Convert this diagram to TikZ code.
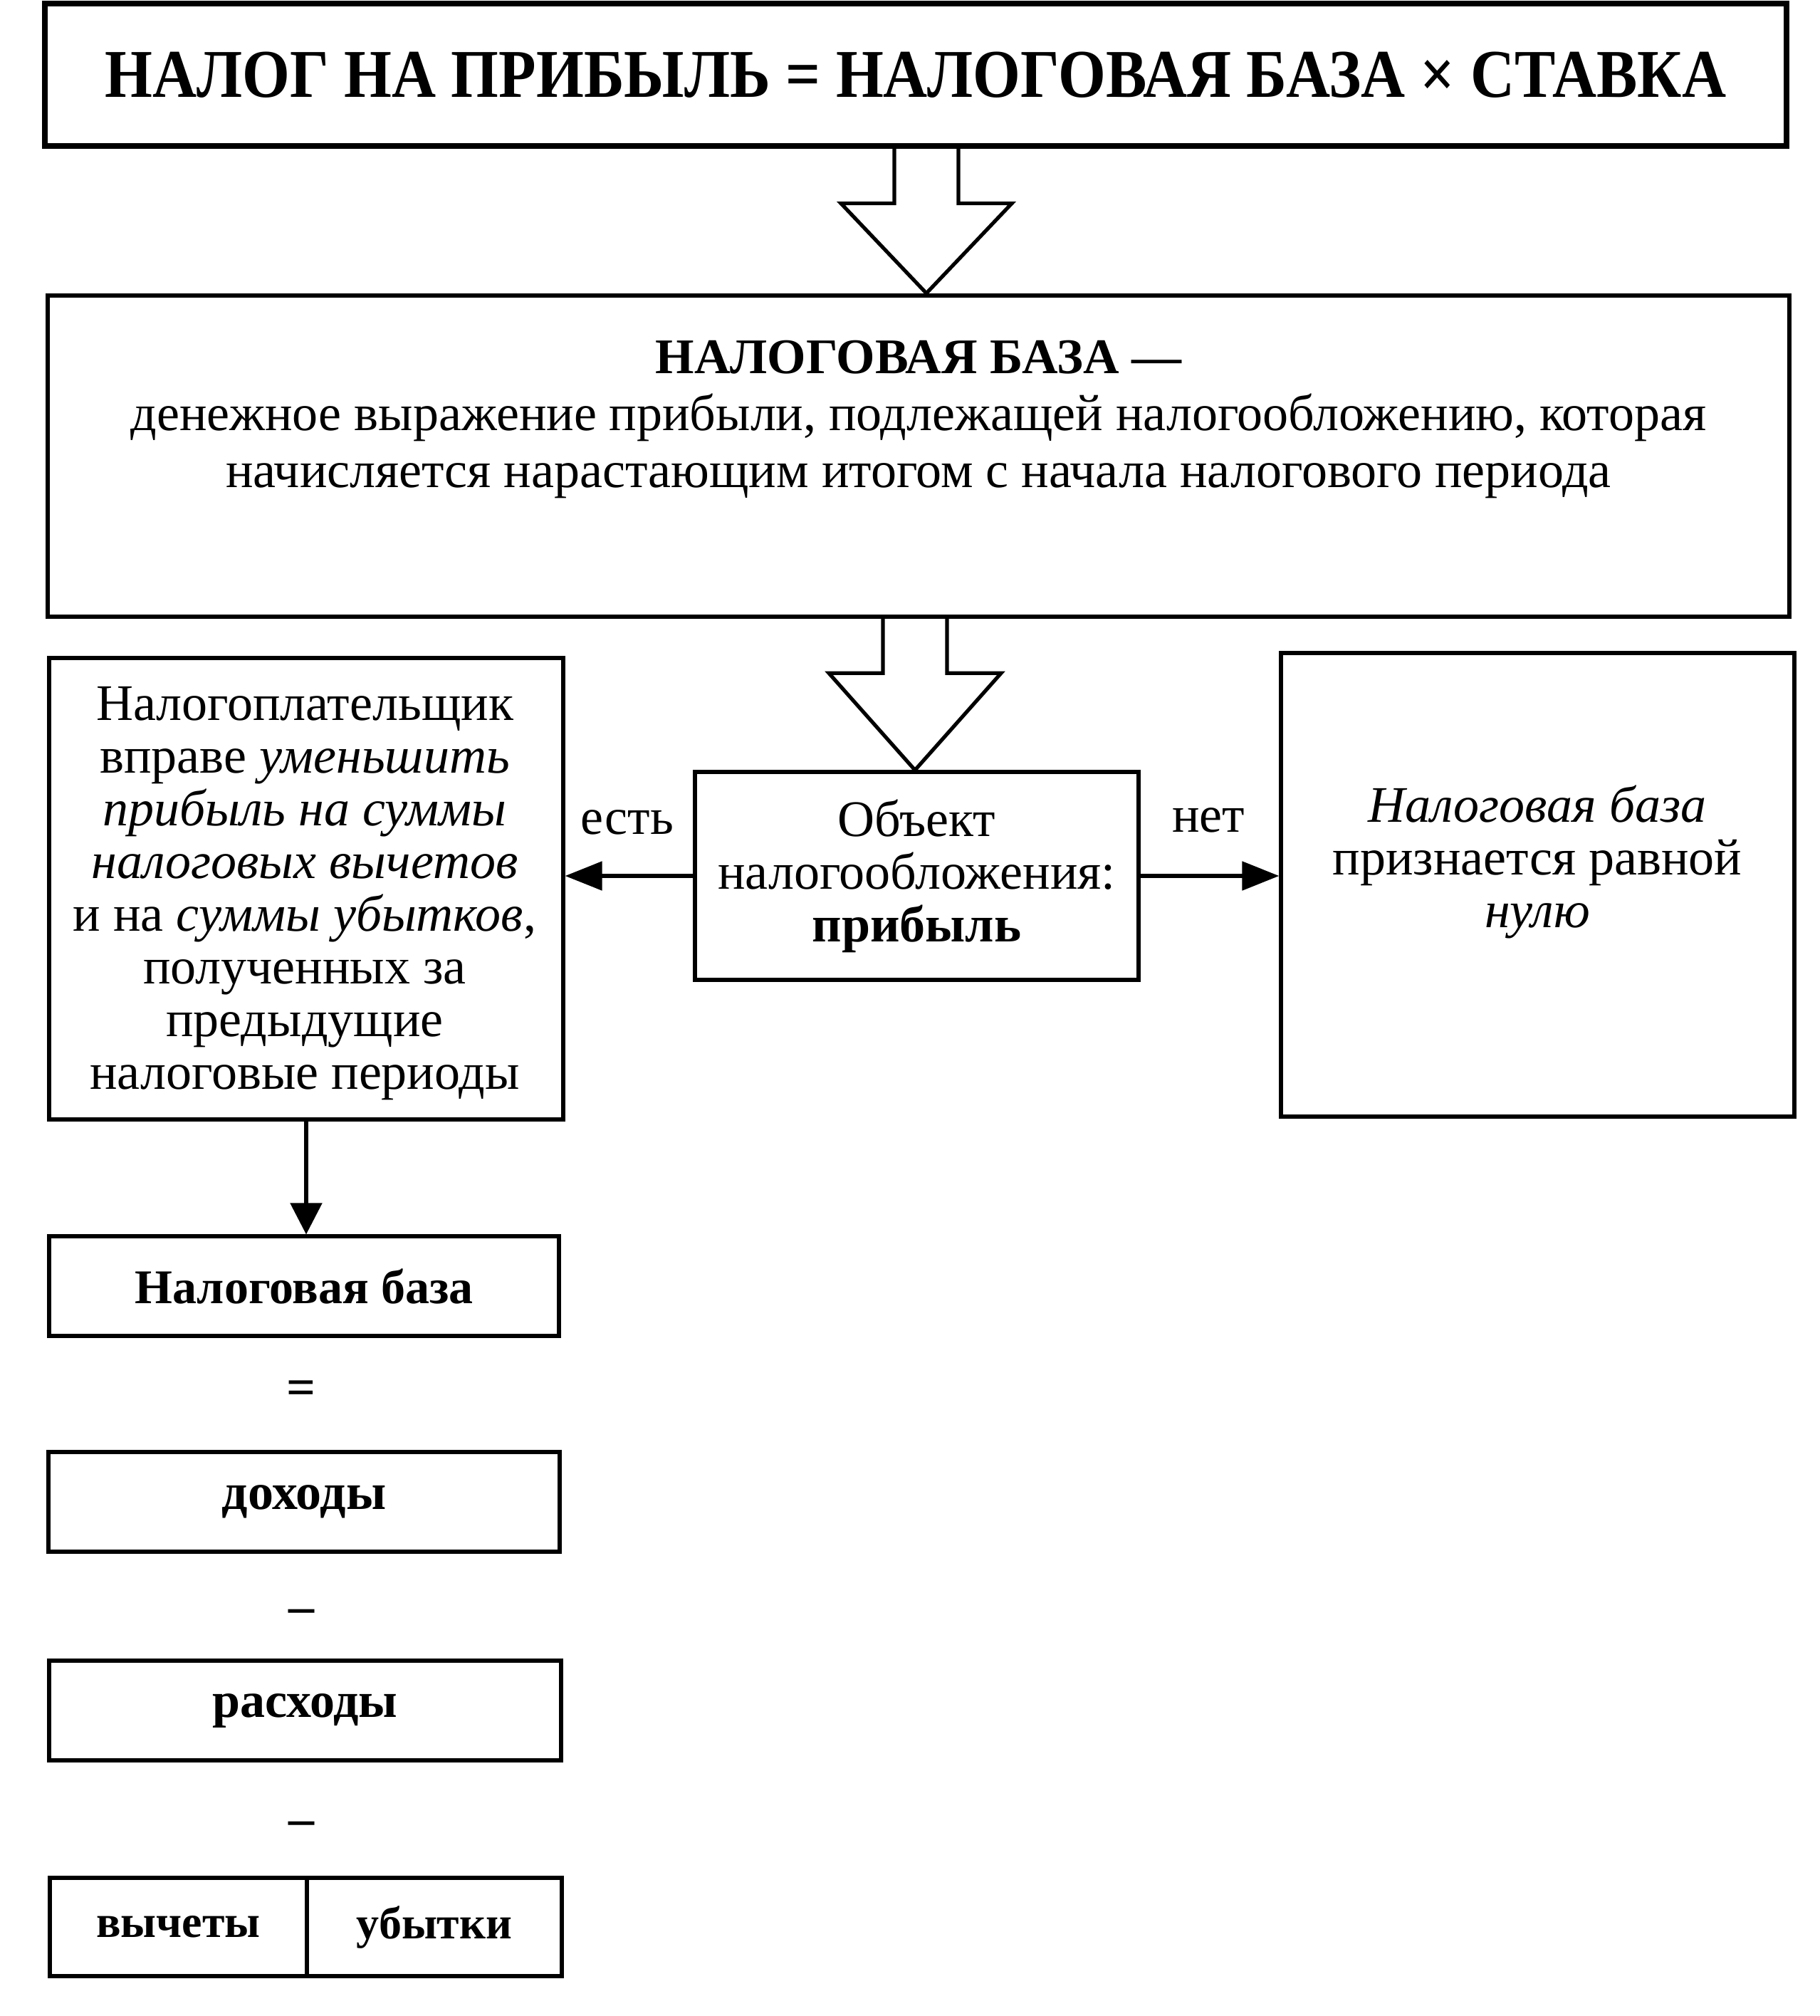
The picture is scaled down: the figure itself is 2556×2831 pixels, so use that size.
\documentclass[tikz,border=0pt]{standalone}
\usepackage{fontspec}
\setmainfont{Liberation Serif}
\usetikzlibrary{arrows.meta,calc}
\begin{document}
\begin{tikzpicture}[x=0.25pt,y=-0.25pt,
  box/.style={draw, line width=1.3pt, inner sep=0pt, align=center},
  txt/.style={inner sep=0pt, align=center},
  conn/.style={line width=1.3pt, -{Triangle[length=13pt,width=10pt]}},
  hollow/.style={draw, line width=1.3pt, line join=miter},
  f18/.style={font=\fontsize{18}{18.5}\selectfont},
  f18b/.style={font=\fontsize{18}{18.5}\selectfont\bfseries}
]
\useasboundingbox (0,0) rectangle (2556,2831);
% top formula
\node[box, line width=1.8pt, minimum width=611.5pt, minimum height=50pt,
      font=\fontsize{24}{28}\selectfont\bfseries] (top) at (1286,105)
      {\scalebox{0.895}[1]{НАЛОГ НА ПРИБЫЛЬ = НАЛОГОВАЯ БАЗА × СТАВКА}};
% tax base definition box
\node[box, line width=1.6pt, minimum width=611.5pt, minimum height=112.75pt] (nb) at (1290,640.5) {};
\node[txt, font=\fontsize{18}{20}\selectfont] (nbtext) at (1290,589)
  {{\fontsize{17.5}{20}\selectfont\bfseries НАЛОГОВАЯ БАЗА —}\\
   денежное выражение прибыли, подлежащей налогообложению, которая\\
   начисляется нарастающим итогом с начала налогового периода};
% hollow arrow 1
\coordinate (a1) at ($(top.south)+(15,0)$);
\draw[hollow] ($(a1)+(-45,0)$) -- ($(a1)+(-45,77)$) -- ($(a1)+(-120,77)$)
  -- (a1 |- nb.north) -- ($(a1)+(120,77)$) -- ($(a1)+(45,77)$) -- ($(a1)+(45,0)$);
% object box
\node[box, minimum width=155.75pt, minimum height=73pt, f18] (obj) at (1287.5,1230)
  {Объект\\налогообложения:\\\textbf{прибыль}};
% hollow arrow 2
\coordinate (a2) at ($(nb.south)+(-5,0)$);
\draw[hollow] ($(a2)+(-45,0)$) -- ($(a2)+(-45,76)$) -- ($(a2)+(-121,76)$)
  -- (a2 |- obj.north) -- ($(a2)+(121,76)$) -- ($(a2)+(45,76)$) -- ($(a2)+(45,0)$);
% left box
\node[box, minimum width=180.5pt, minimum height=162pt] (left) at (430,1248) {};
\node[txt, f18] (lefttext) at (428,1255)
  {Налогоплательщик\\
   вправе \textit{уменьшить}\\
   \textit{прибыль на суммы}\\
   \textit{налоговых вычетов}\\
   и на \textit{суммы убытков},\\
   полученных за\\
   предыдущие\\
   налоговые периоды};
% right box
\node[box, minimum width=180.25pt, minimum height=162.75pt] (right) at (2159.5,1242.5) {};
\node[txt, f18] (righttext) at (2159,1210)
  {\textit{Налоговая база}\\признается равной\\\textit{нулю}};
% connectors
\draw[conn] (obj.west) -- (obj.west -| left.east);
\draw[conn] (obj.east) -- (obj.east -| right.west);
\node[txt, f18] (yes) at (881,1155) {есть};
\node[txt, f18] (no) at (1697,1152) {нет};
% formula column
\node[box, minimum width=179pt, minimum height=35pt, font=\fontsize{17}{18}\selectfont\bfseries] (base) at (427,1806) {Налоговая база};
\draw[line width=1.3pt, -{Triangle[length=11pt,width=11pt]}] (left.south) -- (left.south |- base.north);
\node[txt, f18b] (eq) at (423,1956) {=};
\node[box, minimum width=179.5pt, minimum height=35pt, f18b] (inc) at (427,2109) {\raisebox{-1.5pt}{доходы}};
\node[txt, f18b] (m1) at (423,2270) {–};
\node[box, minimum width=179.75pt, minimum height=35pt, font=\fontsize{17.5}{18}\selectfont\bfseries] (exp) at (428.5,2402) {\raisebox{-2pt}{расходы}};
\node[txt, f18b] (m2) at (423,2568) {–};
\node[box, minimum width=90.25pt, minimum height=34.5pt, font=\fontsize{16}{18}\selectfont\bfseries] (ded) at (250.5,2706) {вычеты};
\node[box, minimum width=89.5pt, minimum height=34.5pt, font=\fontsize{16}{18}\selectfont\bfseries] (loss) at (610,2706) {убытки};
\end{tikzpicture}
\end{document}
